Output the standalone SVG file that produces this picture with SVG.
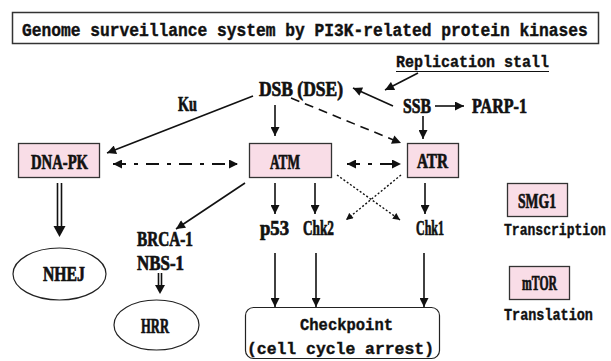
<svg xmlns="http://www.w3.org/2000/svg" width="611" height="361" viewBox="0 0 611 361">
  <style>
    .lbl { font-family: "Liberation Serif", "Times New Roman", serif; font-weight: bold; font-size: 20px; fill: #111; stroke: #111; stroke-width: 0.7; }
    .mono { font-family: "Liberation Mono", "Courier New", monospace; font-weight: bold; font-size: 17px; fill: #111; stroke: #111; stroke-width: 0.4; }
    .kbox { fill: #f9dde7; stroke: #333; stroke-width: 1.3; }
    .oval { fill: #fff; stroke: #222; stroke-width: 1.2; }
    .ln { stroke: #111; stroke-width: 1.6; fill: none; }
    .dash { stroke-dasharray: 9 6; }
    .dashdot { stroke-width: 2.2; stroke-dasharray: 13 8 4 8; }
    .dot { stroke-width: 1.4; stroke-dasharray: 2 2; }
  </style>
  <defs>
    <marker id="ah" viewBox="0 0 10 10" refX="10" refY="5" markerUnits="userSpaceOnUse" markerWidth="10" markerHeight="9" orient="auto-start-reverse">
      <path d="M0,0 L10,5 L0,10 z" fill="#111"/>
    </marker>
    <marker id="ahs" viewBox="0 0 10 10" refX="10" refY="5" markerUnits="userSpaceOnUse" markerWidth="8" markerHeight="7" orient="auto-start-reverse">
      <path d="M0,0 L10,5 L0,10 z" fill="#111"/>
    </marker>
  </defs>

  <rect width="611" height="361" fill="#fff"/>

  <!-- title banner -->
  <g id="title">
    <rect x="12.5" y="12.5" width="586" height="31" fill="#fff" stroke="#333" stroke-width="1.5"/>
    <text class="mono" transform="translate(22,36) scale(0.9036,1)" x="0" y="0" style="font-size:18px">Genome surveillance system by PI3K-related protein kinases</text>
  </g>

  <!-- damage sources and kinase nodes -->
  <g id="replication-stall">
    <text class="mono" x="396" y="67" textLength="153" lengthAdjust="spacingAndGlyphs">Replication stall</text>
    <line x1="396" y1="71.5" x2="549" y2="71.5" stroke="#111" stroke-width="1.2"/>
  </g>
  <g id="dsb">
    <text class="lbl" x="259" y="96" textLength="84" lengthAdjust="spacingAndGlyphs">DSB (DSE)</text>
  </g>
  <g id="ku">
    <text class="lbl" x="178" y="111" textLength="19" lengthAdjust="spacingAndGlyphs">Ku</text>
  </g>
  <g id="ssb">
    <text class="lbl" x="403" y="113" textLength="28" lengthAdjust="spacingAndGlyphs">SSB</text>
  </g>
  <g id="parp1">
    <text class="lbl" x="472" y="113" textLength="55" lengthAdjust="spacingAndGlyphs">PARP-1</text>
  </g>
  <g id="dna-pk">
    <rect class="kbox" x="18.5" y="143.5" width="81" height="34"/>
    <text class="lbl" x="31" y="169" textLength="57" lengthAdjust="spacingAndGlyphs">DNA-PK</text>
  </g>
  <g id="atm">
    <rect class="kbox" x="249.5" y="143.5" width="82" height="34"/>
    <text class="lbl" x="270" y="169" textLength="30" lengthAdjust="spacingAndGlyphs">ATM</text>
  </g>
  <g id="atr">
    <rect class="kbox" x="407.5" y="143.5" width="51" height="34"/>
    <text class="lbl" x="417" y="168" textLength="31" lengthAdjust="spacingAndGlyphs">ATR</text>
  </g>
  <g id="smg1">
    <rect class="kbox" x="507.5" y="183.5" width="60" height="33"/>
    <text class="lbl" x="518" y="208" textLength="38" lengthAdjust="spacingAndGlyphs">SMG1</text>
    <text class="mono" transform="translate(504,235) scale(0.817,1)" x="0" y="0" style="font-size:16px">Transcription</text>
  </g>
  <g id="mtor">
    <rect class="kbox" x="509.5" y="266.5" width="60" height="33"/>
    <text class="lbl" x="522" y="290" textLength="35" lengthAdjust="spacingAndGlyphs">mTOR</text>
    <text class="mono" transform="translate(504,320) scale(0.843,1)" x="0" y="0" style="font-size:16px">Translation</text>
  </g>

  <!-- substrates and outcomes -->
  <g id="p53">
    <text class="lbl" x="260" y="235" textLength="29" lengthAdjust="spacingAndGlyphs">p53</text>
  </g>
  <g id="chk2">
    <text class="lbl" x="303" y="235" textLength="31" lengthAdjust="spacingAndGlyphs">Chk2</text>
  </g>
  <g id="chk1">
    <text class="lbl" x="416" y="235" textLength="28" lengthAdjust="spacingAndGlyphs">Chk1</text>
  </g>
  <g id="brca1-nbs1">
    <text class="lbl" x="137" y="246" textLength="56" lengthAdjust="spacingAndGlyphs">BRCA-1</text>
    <text class="lbl" x="137" y="270" textLength="47" lengthAdjust="spacingAndGlyphs">NBS-1</text>
  </g>
  <g id="nhej">
    <ellipse class="oval" cx="59.5" cy="274" rx="46.5" ry="26"/>
    <text class="lbl" x="43" y="281" textLength="42" lengthAdjust="spacingAndGlyphs">NHEJ</text>
  </g>
  <g id="hrr">
    <ellipse class="oval" cx="156.5" cy="325" rx="42.5" ry="25"/>
    <text class="lbl" x="141" y="333" textLength="28" lengthAdjust="spacingAndGlyphs">HRR</text>
  </g>
  <g id="checkpoint">
    <rect x="245.5" y="307.5" width="194" height="51" rx="8" fill="#fff" stroke="#222" stroke-width="1.2"/>
    <text class="mono" x="300" y="330" textLength="93" lengthAdjust="spacingAndGlyphs">Checkpoint</text>
    <text class="mono" x="247" y="354" textLength="187" lengthAdjust="spacingAndGlyphs">(cell cycle arrest)</text>
  </g>

  <!-- connectors -->
  <g id="connectors">
    <line class="ln" x1="253" y1="96" x2="107" y2="153" marker-end="url(#ah)"/>
    <line class="ln" x1="275" y1="105" x2="275" y2="136" marker-end="url(#ah)"/>
    <line class="ln dash" x1="291" y1="98" x2="401" y2="143" marker-end="url(#ah)"/>
    <line class="ln" x1="418" y1="73" x2="385" y2="90" marker-end="url(#ah)"/>
    <line class="ln" x1="393" y1="106" x2="353" y2="88" marker-end="url(#ah)"/>
    <line class="ln" x1="435" y1="106" x2="464" y2="106" marker-end="url(#ah)"/>
    <line class="ln" x1="423" y1="116" x2="423" y2="139" marker-end="url(#ah)"/>
    <line class="ln dashdot" x1="113" y1="164" x2="238" y2="164" marker-start="url(#ah)" marker-end="url(#ah)"/>
    <line class="ln dashdot" x1="347" y1="164" x2="401" y2="164" stroke-dasharray="14 9 4 9" marker-start="url(#ah)" marker-end="url(#ah)"/>
    <line class="ln" x1="245" y1="183" x2="176" y2="229" marker-end="url(#ah)"/>
    <line class="ln" x1="275" y1="183" x2="275" y2="214" marker-end="url(#ah)"/>
    <line class="ln" x1="315" y1="183" x2="315" y2="214" marker-end="url(#ah)"/>
    <line class="ln" x1="425" y1="183" x2="425" y2="214" marker-end="url(#ah)"/>
    <line class="ln dot" x1="337" y1="175" x2="400" y2="220" marker-end="url(#ahs)"/>
    <line class="ln dot" x1="401" y1="175" x2="346" y2="220" marker-end="url(#ahs)"/>
    <!-- double-shafted arrows to repair pathways -->
    <path class="ln" d="M57.5,183 V227 M61.5,183 V227" stroke-width="1.3"/>
    <path d="M53.5,226 L65.5,226 L59.5,237 z" fill="#111"/>
    <path class="ln" d="M158.5,273 V286 M161.5,273 V286" stroke-width="1.1"/>
    <path d="M155,285 L165,285 L160,294 z" fill="#111"/>
    <line class="ln" x1="275" y1="253" x2="275" y2="307" marker-end="url(#ah)"/>
    <line class="ln" x1="316" y1="253" x2="316" y2="307" marker-end="url(#ah)"/>
    <line class="ln" x1="424" y1="253" x2="424" y2="307" marker-end="url(#ah)"/>
  </g>
</svg>
